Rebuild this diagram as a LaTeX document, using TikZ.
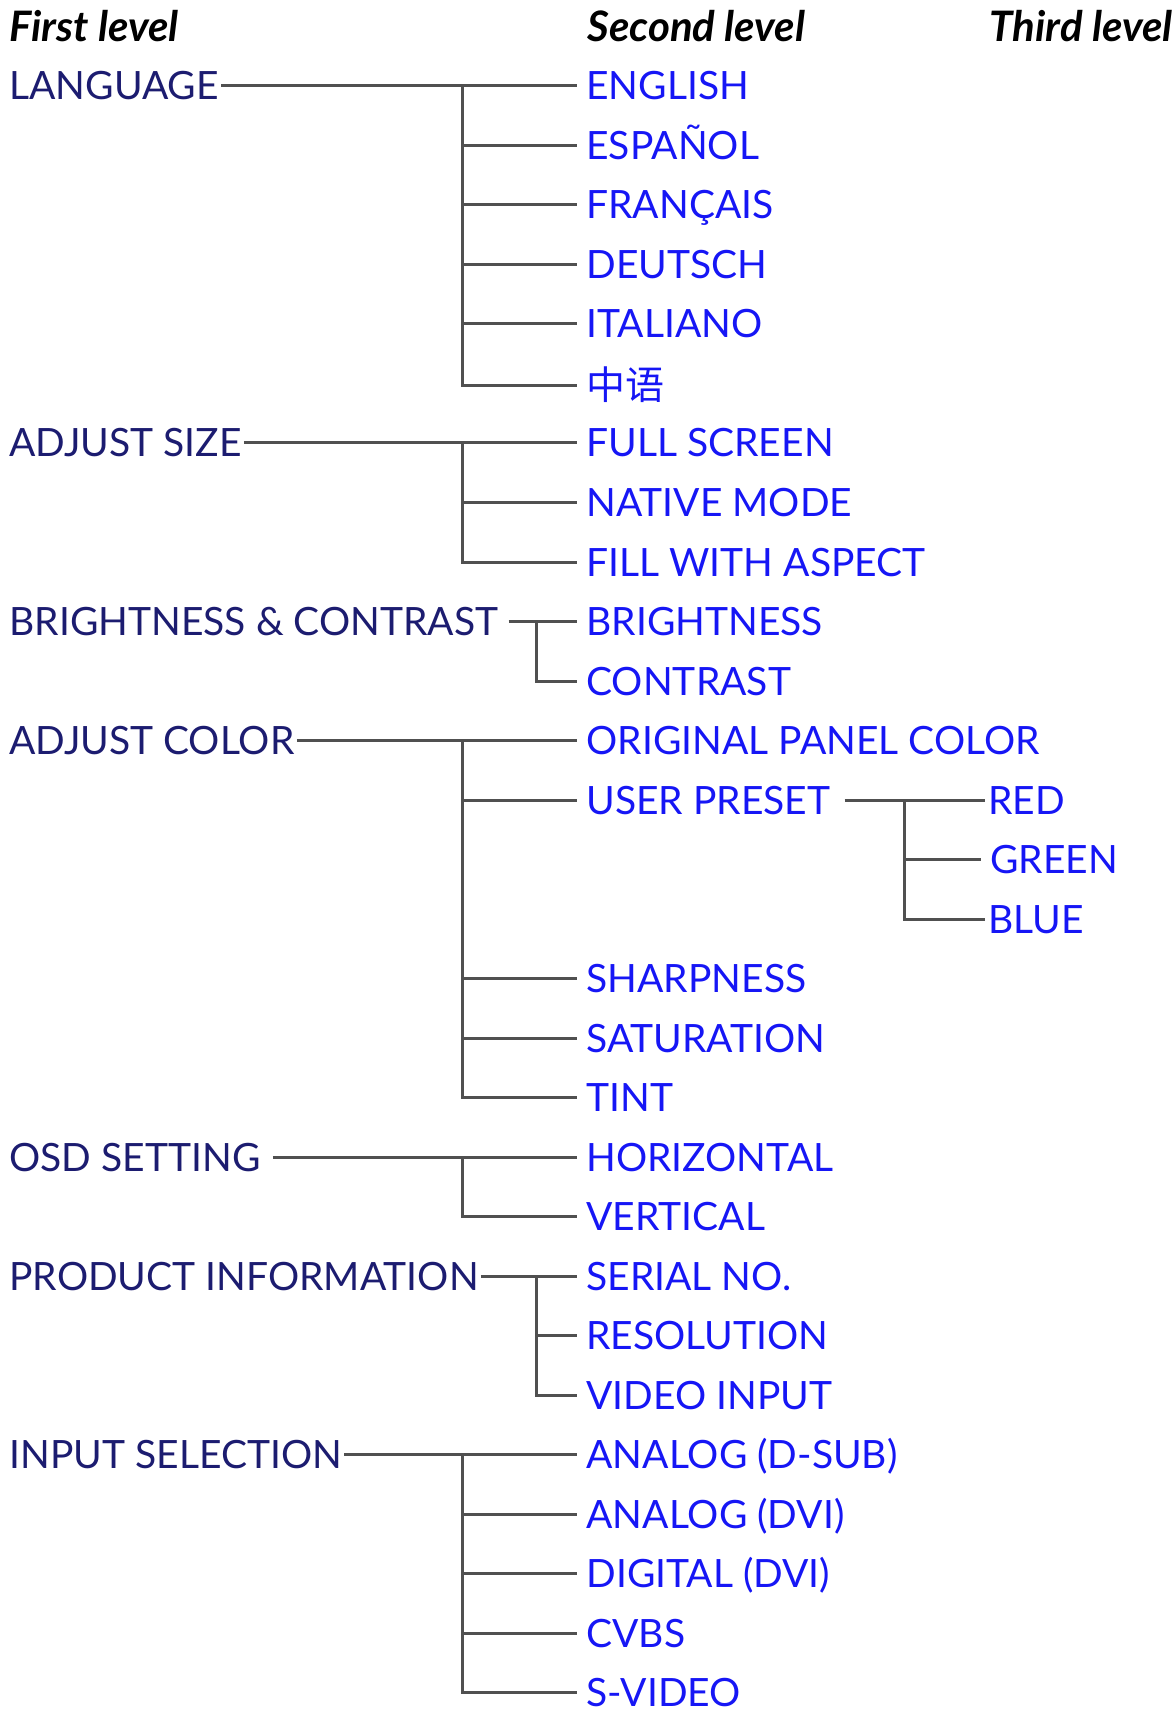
\documentclass[tikz,border=0pt]{standalone}
\usepackage{fontspec}
\setmainfont{Lato}
\newfontfamily\cjkfont{Noto Sans CJK SC}
\usepackage{tikz}

\definecolor{navy}{RGB}{28,28,112}
\definecolor{menublue}{RGB}{22,22,245}
\definecolor{treeline}{RGB}{80,80,80}

\tikzset{
  lvlone/.style={anchor=west, inner sep=0pt, text height=14pt, text depth=0pt, text=navy, font=\fontsize{19.5}{22}\selectfont},
  lvltwo/.style={lvlone, text=menublue},
  head/.style={inner sep=0pt, text height=15pt, text depth=0pt, font=\fontsize{21}{24}\selectfont\bfseries\itshape},
  branch/.style={draw=treeline, line width=1.5pt, shorten >=4.5pt}
}

\begin{document}
\begin{tikzpicture}[x=0.5pt,y=0.5pt,yscale=-1,xscale=1]
\path[use as bounding box] (0,0) rectangle (1176,1716);

% Headings
\node[head, anchor=west] (hfirst) at (9,27) {First level};
\node[head, anchor=west] (hsecond) at (587,27) {Second level};
\node[head, anchor=east] (hthird) at (1173,27) {Third level};

% Text Node
\node[lvlone] (language) at (9,86) {LANGUAGE};
\node[lvltwo] (english) at (586,86) {ENGLISH};
\node[lvltwo] (espanol) at (586,145.5) {ESPAÑOL};
\node[lvltwo] (francais) at (586,205) {FRANÇAIS};
\node[lvltwo] (deutsch) at (586,264.5) {DEUTSCH};
\node[lvltwo] (italiano) at (586,324) {ITALIANO};
\node[lvltwo] (chinese) at (586,386) {\cjkfont 中语};
% Text Node
\node[lvlone] (adjsize) at (9,443) {ADJUST SIZE};
\node[lvltwo] (fullscreen) at (586,443) {FULL SCREEN};
\node[lvltwo] (native) at (586,502.5) {NATIVE MODE};
\node[lvltwo] (fillaspect) at (586,562) {FILL WITH ASPECT};
% Text Node
\node[lvlone] (brightcon) at (9,621.5) {BRIGHTNESS \& CONTRAST};
\node[lvltwo] (brightness) at (586,621.5) {BRIGHTNESS};
\node[lvltwo] (contrast) at (586,681) {CONTRAST};
% Text Node
\node[lvlone] (adjcolor) at (9,740.5) {ADJUST COLOR};
\node[lvltwo] (original) at (586,740.5) {ORIGINAL PANEL COLOR};
\node[lvltwo] (userpreset) at (586,800) {USER PRESET};
\node[lvltwo] (red) at (988,800) {RED};
\node[lvltwo] (green) at (990,859.5) {GREEN};
\node[lvltwo] (blue) at (988,919) {BLUE};
\node[lvltwo] (sharpness) at (586,978.5) {SHARPNESS};
\node[lvltwo] (saturation) at (586,1038) {SATURATION};
\node[lvltwo] (tint) at (586,1097.5) {TINT};
% Text Node
\node[lvlone] (osd) at (9,1157) {OSD SETTING};
\node[lvltwo] (horizontal) at (586,1157) {HORIZONTAL};
\node[lvltwo] (vertical) at (586,1216.5) {VERTICAL};
% Text Node
\node[lvlone] (prodinfo) at (9,1276) {PRODUCT INFORMATION};
\node[lvltwo] (serial) at (586,1276) {SERIAL NO.};
\node[lvltwo] (resolution) at (586,1335.5) {RESOLUTION};
\node[lvltwo] (videoin) at (586,1395) {VIDEO INPUT};
% Text Node
\node[lvlone] (inputsel) at (9,1454.5) {INPUT SELECTION};
\node[lvltwo] (dsub) at (586,1454.5) {ANALOG (D-SUB)};
\node[lvltwo] (analogdvi) at (586,1514) {ANALOG (DVI)};
\node[lvltwo] (digitaldvi) at (586,1573.5) {DIGITAL (DVI)};
\node[lvltwo] (cvbs) at (586,1633) {CVBS};
\node[lvltwo] (svideo) at (586,1692.5) {S-VIDEO};

% Trunk points
\coordinate (langtrunk) at (462,86);
\coordinate (sizetrunk) at (462,443);
\coordinate (bctrunk) at (536,621.5);
\coordinate (colortrunk) at (462,740.5);
\coordinate (presettrunk) at (904,800);
\coordinate (osdtrunk) at (462,1157);
\coordinate (infotrunk) at (536,1276);
\coordinate (inputtrunk) at (462,1454.5);

%Straight Lines
\draw[branch, shorten <=1pt] (language.east) -- (english.west);
\foreach \n in {espanol,francais,deutsch,italiano,chinese}
  \draw[branch] (langtrunk) |- (\n.west);
%Straight Lines
\draw[branch, shorten <=1pt] (adjsize.east) -- (fullscreen.west);
\foreach \n in {native,fillaspect}
  \draw[branch] (sizetrunk) |- (\n.west);
%Straight Lines
\draw[branch, shorten <=5pt] (brightcon.east) -- (brightness.west);
\draw[branch] (bctrunk) |- (contrast.west);
%Straight Lines
\draw[branch, shorten <=1pt] (adjcolor.east) -- (original.west);
\foreach \n in {userpreset,sharpness,saturation,tint}
  \draw[branch] (colortrunk) |- (\n.west);
\draw[branch, shorten <=7pt, shorten >=1.5pt] (userpreset.east) -- (red.west);
\draw[branch] (presettrunk) |- (green.west);
\draw[branch, shorten >=1.5pt] (presettrunk) |- (blue.west);
%Straight Lines
\draw[branch, shorten <=6pt] (osd.east) -- (horizontal.west);
\draw[branch] (osdtrunk) |- (vertical.west);
%Straight Lines
\draw[branch, shorten <=1pt] (prodinfo.east) -- (serial.west);
\foreach \n in {resolution,videoin}
  \draw[branch] (infotrunk) |- (\n.west);
%Straight Lines
\draw[branch, shorten <=1pt] (inputsel.east) -- (dsub.west);
\foreach \n in {analogdvi,digitaldvi,cvbs,svideo}
  \draw[branch] (inputtrunk) |- (\n.west);

\end{tikzpicture}
\end{document}
